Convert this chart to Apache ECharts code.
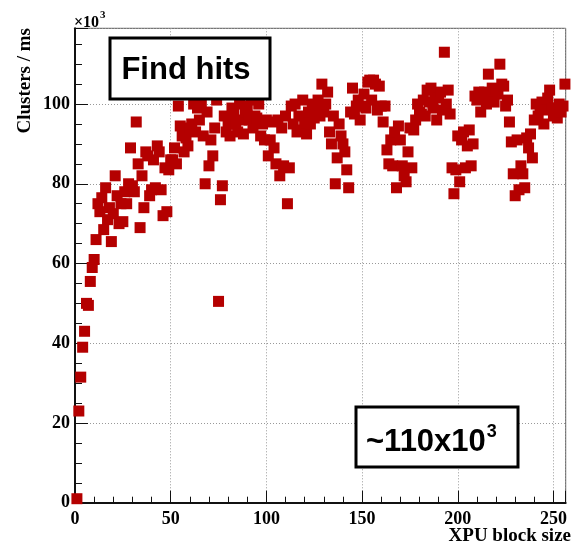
<!DOCTYPE html>
<html>
<head>
<meta charset="utf-8">
<script src="https://cdn.jsdelivr.net/npm/echarts@6/dist/echarts.min.js"></script>
<style>
  html, body { margin: 0; padding: 0; background: #fff; }
  #chart { width: 575px; height: 545px; }
</style>
</head>
<body>
<div id="chart"></div>
<script>
// Find-hits throughput (x10^3 clusters per ms) for XPU block sizes 1..256
const clusterRate = [
  1, 23, 31.5, 39, 43, 50, 49.5, 55.5, 59, 61,
  66, 75, 73, 76.5, 68.5, 79, 71, 74, 65.5, 72.5,
  82, 77, 70, 75, 70.5, 78, 75, 80, 89, 79.5,
  78, 95.5, 85, 69, 82, 74, 88, 87, 77, 78.5,
  86, 79, 89.5, 88, 78.5, 72, 84, 73, 83.5, 86,
  86, 89, 85, 99.5, 94.5, 92, 88, 91.5, 89.5, 94,
  95, 100, 93, 99, 96, 100.5, 92, 80, 98, 84.5,
  91, 87, 94, 101, 50.5, 76, 79.5, 97, 93, 95,
  92, 99, 97.5, 95, 93, 100, 96, 92.5, 98, 99.5,
  96, 101, 94, 97, 96.5, 100, 92, 95, 91, 96,
  87, 91, 95.5, 89, 85, 96, 82, 94, 84.5, 97,
  75, 84, 99.5, 95, 100, 93, 97, 93.5, 101, 96,
  92.5, 98, 95, 100, 96.5, 99, 101, 97, 105, 98,
  100, 103, 93, 90, 97, 80, 86.5, 95, 92, 90,
  88, 83.5, 79, 98, 104, 97.5, 99.5, 101, 96, 99.5,
  102.5, 99, 105.5, 106, 101, 106, 105, 98.5, 104.5, 99.5,
  95.5, 99.5, 88.5, 85, 91, 84.5, 93, 79, 94.5, 91,
  84.5, 82, 80.5, 88, 94, 84, 93.5, 96, 100, 98,
  97.5, 101, 97, 103.5, 100.5, 104, 99, 102, 96, 101.5,
  103, 98.5, 113, 100, 103.5, 97.5, 84, 77.5, 83.5, 92,
  80.5, 91, 93, 84, 89.5, 93.5, 84.5, 90, 102, 101,
  103, 98, 101.5, 103, 100, 107.5, 102, 104, 100.5, 103.5,
  102.5, 110, 105, 104.5, 99.5, 101, 95.5, 90.5, 82.5, 77,
  91, 78.5, 84.5, 82.5, 79, 91.5, 89, 92.5, 86.5, 96,
  100, 97, 99, 100.5, 95, 98.5, 101.5, 103.5, 99, 97,
  99, 96.5, 100, 98, 99.5, 105
];

const xTickValues = [0, 50, 100, 150, 200, 250];
const yTickValues = [0, 20, 40, 60, 80, 100];

const axisTitleX = 'XPU block size';
const axisTitleY = 'Clusters / ms';
const stepLabel = 'Find hits';
const peakLabel = '~110x10';
const peakExponent = '3';
const yMultiplier = '\u00d710';
const yMultiplierExp = '3';

// block size is the 1-based position in the list
const points = clusterRate.map((v, i) => [i + 1, v]);

const serif = "'Liberation Serif', 'DejaVu Serif', serif";
const sans = "'Liberation Sans', Arial, sans-serif";
const peakFont = 'bold 31px ' + sans;

// width of the peak label, so its exponent can sit right after it
function textWidth(text, font) {
  const ctx = document.createElement('canvas').getContext('2d');
  ctx.font = font;
  return ctx.measureText(text).width;
}
const peakX = 366;
const peakExpX = peakX + textWidth(peakLabel, peakFont) + 1;

const chart = echarts.init(document.getElementById('chart'), null, { renderer: 'canvas' });

chart.setOption({
  animation: false,
  backgroundColor: '#fff',
  grid: {
    left: 75, right: 9.3, top: 28.3, bottom: 42.3,
    show: true, borderColor: '#555', borderWidth: 1, backgroundColor: 'transparent'
  },
  xAxis: {
    type: 'value',
    min: 0, max: 256.4, interval: 50,
    axisLine: { show: true, onZero: false, lineStyle: { color: '#111', width: 2 } },
    axisTick: { show: true, inside: true, length: 12, lineStyle: { color: '#111', width: 1 } },
    minorTick: { show: true, splitNumber: 5, length: 6, lineStyle: { color: '#111', width: 1 } },
    axisLabel: { customValues: xTickValues, color: '#000', fontFamily: serif, fontWeight: 'bold',
      fontSize: 18, margin: 8 },
    splitLine: { show: true, lineStyle: { type: [1, 2], color: '#999', width: 1 } }
  },
  yAxis: {
    type: 'value',
    min: 0, max: 119, interval: 20,
    axisLine: { show: true, onZero: false, lineStyle: { color: '#111', width: 2 } },
    axisTick: { show: true, inside: true, length: 13, lineStyle: { color: '#111', width: 1 } },
    minorTick: { show: true, splitNumber: 4, length: 7, lineStyle: { color: '#111', width: 1 } },
    axisLabel: { customValues: yTickValues, color: '#000', fontFamily: serif, fontWeight: 'bold',
      fontSize: 18, margin: 5 },
    splitLine: { show: true, lineStyle: { type: [1, 2], color: '#999', width: 1 } }
  },
  series: [{
    type: 'scatter',
    data: points,
    symbol: 'rect',
    symbolSize: 11,
    clip: false,
    itemStyle: { color: '#b40000', opacity: 1 },
    z: 3
  }],
  graphic: [
    // axis titles
    { type: 'text', x: 25, y: 28, rotation: Math.PI / 2, z: 10,
      style: { text: axisTitleY, font: 'bold 19px ' + serif, fill: '#000',
        textAlign: 'right', textVerticalAlign: 'middle' } },
    { type: 'text', x: 571, y: 536, z: 10,
      style: { text: axisTitleX, font: 'bold 19px ' + serif, fill: '#000',
        textAlign: 'right', textVerticalAlign: 'middle' } },
    // axis multiplier
    { type: 'text', x: 74, y: 23, z: 10,
      style: { text: yMultiplier, font: 'bold 16px ' + serif, fill: '#000',
        textAlign: 'left', textVerticalAlign: 'middle' } },
    { type: 'text', x: 100, y: 15, z: 10,
      style: { text: yMultiplierExp, font: 'bold 11px ' + serif, fill: '#000',
        textAlign: 'left', textVerticalAlign: 'middle' } },
    // step label box
    { type: 'rect', z: 20, shape: { x: 110, y: 38, width: 160, height: 61 },
      style: { fill: '#fff', stroke: '#000', lineWidth: 3 } },
    { type: 'text', x: 186, y: 70, z: 21,
      style: { text: stepLabel, font: 'bold 31px ' + sans, fill: '#000',
        textAlign: 'center', textVerticalAlign: 'middle' } },
    // peak throughput box
    { type: 'rect', z: 20, shape: { x: 356, y: 407, width: 162, height: 60 },
      style: { fill: '#fff', stroke: '#000', lineWidth: 3 } },
    { type: 'text', x: peakX, y: 442, z: 21,
      style: { text: peakLabel, font: peakFont, fill: '#000',
        textAlign: 'left', textVerticalAlign: 'middle' } },
    { type: 'text', x: peakExpX, y: 432, z: 21,
      style: { text: peakExponent, font: 'bold 18px ' + sans, fill: '#000',
        textAlign: 'left', textVerticalAlign: 'middle' } }
  ]
});
</script>
</body>
</html>
